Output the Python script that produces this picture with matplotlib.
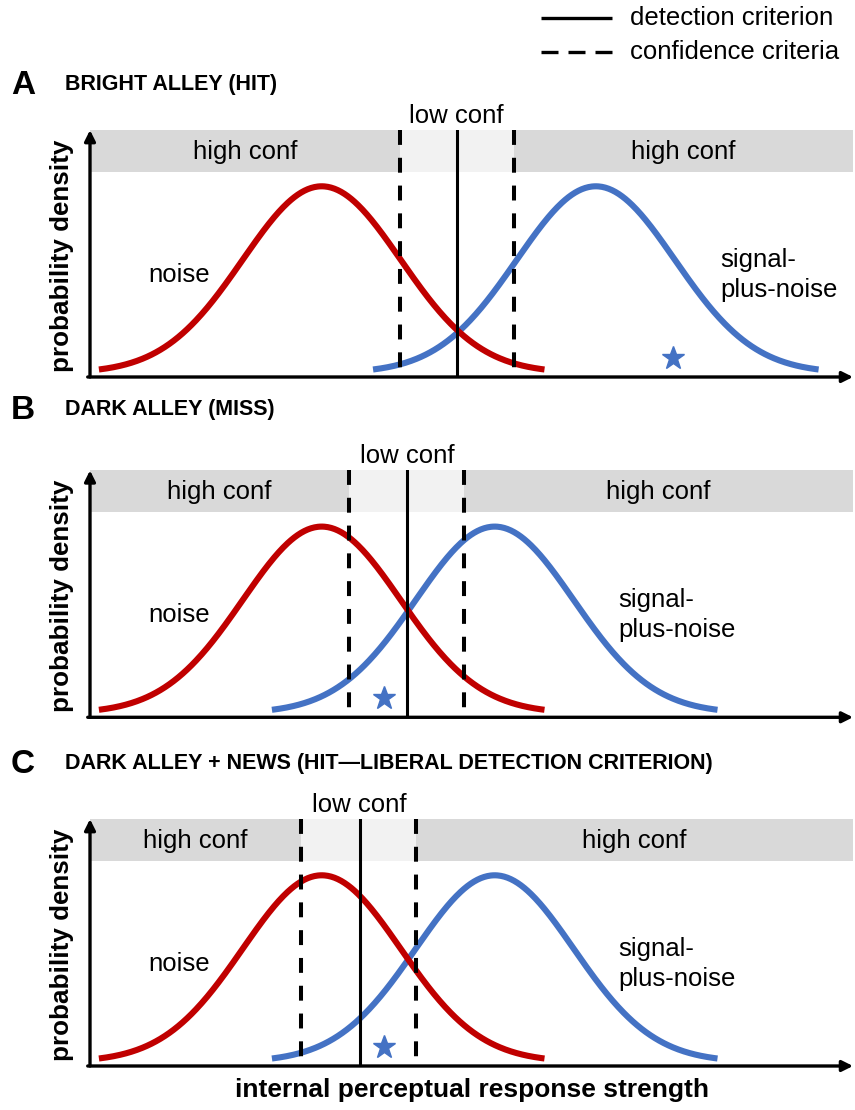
import numpy as np
import matplotlib
matplotlib.use("Agg")
import matplotlib.pyplot as plt

plt.rcParams['font.family'] = ['Liberation Sans', 'DejaVu Sans']

# ---------------- data ----------------
panel_letters = ['A', 'B', 'C']
panel_titles = ['BRIGHT ALLEY (HIT)',
                'DARK ALLEY (MISS)',
                'DARK ALLEY + NEWS (HIT\u2014LIBERAL DETECTION CRITERION)']
noise_mean = [0.0, 0.0, 0.0]
signal_mean = [3.47, 2.19, 2.19]
sd = [1.0, 1.0, 1.0]
detection_criterion = [1.71, 1.08, 0.48]
confidence_low = [0.99, 0.35, -0.26]
confidence_high = [2.44, 1.80, 1.19]
star_x = [4.45, 0.79, 0.79]
star_y = [0.033, 0.033, 0.033]
curve_extent = 2.82          # curves drawn to +/- this many sd
band_bottom, band_top = 0.43, 0.519

legend_labels = ['detection criterion', 'confidence criteria']
x_label = 'internal perceptual response strength'
y_label = 'probability density'

# ---------------- layout (pixels) ----------------
W, H = 855, 1110
axis_y_px = [377, 717.3, 1066]
x_left_px, x_right_px = 90, 853
noise_px, px_per_sd = 321.7, 79.0
px_per_unit = 468.0
ylo = -4.0 / px_per_unit
xmin = (x_left_px - noise_px) / px_per_sd
xmax = (x_right_px - noise_px) / px_per_sd
ax_h_px = (band_top - ylo) * px_per_unit

letter_base = [94, 419, 773]
title_base = [90, 415, 769]

RED = '#C00000'
BLUE = '#4472C4'
GRAY = '#D9D9D9'
LIGHT = '#F2F2F2'
FS = 18.5

fig = plt.figure(figsize=(W / 100, H / 100), dpi=100)

ov = fig.add_axes([0, 0, 1, 1])
ov.set_xlim(0, W)
ov.set_ylim(H, 0)
ov.axis('off')

# legend
ov.plot([541, 612], [18, 18], color='k', lw=2.4, solid_capstyle='butt')
ov.plot([541, 612], [52, 52], color='k', lw=2.4, dashes=(5.1, 3.0), dash_capstyle='butt')
ov.text(630, 18, legend_labels[0], fontsize=FS, va='center', ha='left')
ov.text(630, 52, legend_labels[1], fontsize=FS, va='center', ha='left')

ov.text(472, 1090, x_label, fontsize=19, fontweight='bold', ha='center', va='center')

def pdf(x, m, s):
    return np.exp(-0.5 * ((x - m) / s) ** 2) / (s * np.sqrt(2 * np.pi))

for i in range(3):
    ay = axis_y_px[i]
    ov.text(11, letter_base[i], panel_letters[i], fontsize=24, fontweight='bold', va='baseline')
    ov.text(65, title_base[i], panel_titles[i], fontsize=15.5, fontweight='bold', va='baseline')
    ov.text(62, ay - 121, y_label, rotation=90, fontsize=18.7, fontweight='bold',
            ha='center', va='center')

    ax = fig.add_axes([x_left_px / W, 1 - ay / H, (x_right_px - x_left_px) / W, ax_h_px / H])
    ax.set_xlim(xmin, xmax)
    ax.set_ylim(ylo, band_top)
    ax.axis('off')
    ax.patch.set_alpha(0)

    clo, chi, dc = confidence_low[i], confidence_high[i], detection_criterion[i]
    ax.fill_between([xmin, clo], band_bottom, band_top, color=GRAY, lw=0, zorder=1)
    ax.fill_between([clo, chi], band_bottom, band_top, color=LIGHT, lw=0, zorder=1)
    ax.fill_between([chi, xmax], band_bottom, band_top, color=GRAY, lw=0, zorder=1)

    ax.text((xmin + clo) / 2, 0.457, 'high conf', fontsize=FS, ha='center', va='baseline', zorder=6)
    ax.text((chi + xmax) / 2, 0.457, 'high conf', fontsize=FS, ha='center', va='baseline', zorder=6)
    ax.text(dc, 0.534, 'low conf', fontsize=FS, ha='center', va='baseline', clip_on=False)

    sm, nm, s = signal_mean[i], noise_mean[i], sd[i]
    xs = np.linspace(sm - curve_extent * s, sm + curve_extent * s, 400)
    ax.plot(xs, pdf(xs, sm, s), color=BLUE, lw=4.4, solid_capstyle='butt', zorder=2)
    xn = np.linspace(nm - curve_extent * s, nm + curve_extent * s, 400)
    ax.plot(xn, pdf(xn, nm, s), color=RED, lw=4.4, solid_capstyle='butt', zorder=3)

    for c in (clo, chi):
        ax.plot([c, c], [band_top, 0.01], color='k', lw=2.9, dashes=(3.7, 3.2),
                dash_capstyle='butt', zorder=4)
    ax.plot([dc, dc], [ylo, band_top], color='k', lw=2.2, zorder=4)

    ax.plot([star_x[i]], [star_y[i]], marker='*', ms=17, color=BLUE, ls='none', zorder=5)

    ax.text(nm - 1.806, 0.195, 'noise', fontsize=FS, ha='center', va='baseline')
    ax.text(sm + 1.57, 0.227, 'signal-', fontsize=FS, ha='left', va='baseline')
    ax.text(sm + 1.57, 0.163, 'plus-noise', fontsize=FS, ha='left', va='baseline')

    arrow = dict(arrowstyle='-|>', color='k', lw=2.4, mutation_scale=16, shrinkA=0, shrinkB=0)
    ax.annotate('', xy=(1, 0), xytext=(-0.003, 0), xycoords='axes fraction',
                arrowprops=arrow, annotation_clip=False, zorder=7)
    ax.annotate('', xy=(0, 1), xytext=(0, 0), xycoords='axes fraction',
                arrowprops=arrow, annotation_clip=False, zorder=7)

fig.savefig('out.png', dpi=100)
